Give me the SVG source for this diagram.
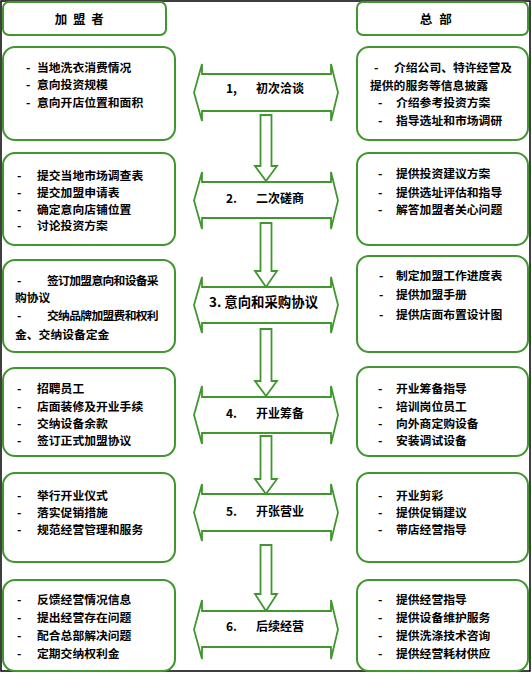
<svg xmlns="http://www.w3.org/2000/svg" width="532" height="674" viewBox="0 0 532 674">
<style>
  .frame { fill: none; stroke: #000; stroke-width: 1.5; }
  .box { fill: #fff; stroke: #41962f; stroke-width: 2; }
  .band { fill: #fff; stroke: #41962f; stroke-width: 1.8; stroke-linejoin: miter; }
  .down { fill: #fff; stroke: #41962f; stroke-width: 1.8; }
  text { font-family: "Noto Sans CJK SC", "Noto Sans", sans-serif; font-weight: 700; fill: #000; dominant-baseline: central; }
  .t { font-size: 11.8px; }
  .tn { font-size: 11.8px; letter-spacing: -0.7px; }
  .h { font-size: 12.5px; }
  .lbl { font-size: 12px; }
  .lbl3 { font-size: 13.4px; }
</style>
<rect class="frame" x="1" y="1" width="529" height="670"/>

<g id="connectors">
  <polygon class="down" points="260.5,115 271.5,115 271.5,166 277,166 266,181 255,166 260.5,166"/>
  <polygon class="down" points="260.5,223 271.5,223 271.5,271 277,271 266,287 255,271 260.5,271"/>
  <polygon class="down" points="260.5,329 271.5,329 271.5,381 277,381 266,396 255,381 260.5,381"/>
  <polygon class="down" points="260.5,436 271.5,436 271.5,479 277,479 266,494 255,479 260.5,479"/>
  <polygon class="down" points="260.5,545 271.5,545 271.5,594 277,594 266,611 255,594 260.5,594"/>
</g>

<g id="header-franchisee">
  <rect class="box" x="3" y="2" width="163" height="33" rx="6"/>
  <text class="h" x="80" y="18" text-anchor="middle" xml:space="preserve" letter-spacing="1.5">加 盟 者</text>
</g>
<g id="header-hq">
  <rect class="box" x="357" y="2" width="171" height="33" rx="6"/>
  <text class="h" x="436" y="18" text-anchor="middle" xml:space="preserve" letter-spacing="0.5">总  部</text>
</g>

<!-- Row 1 -->
<g id="left-1">
  <rect class="box" x="3" y="47" width="172" height="93" rx="12"/>
  <text class="t" x="26" y="66">-</text><text class="t" x="37" y="66">当地洗衣消费情况</text>
  <text class="t" x="26" y="83">-</text><text class="t" x="37" y="83">意向投资规模</text>
  <text class="t" x="26" y="101">-</text><text class="t" x="37" y="101">意向开店位置和面积</text>
</g>
<g id="step-1">
  <polygon class="band" points="194,92.5 202,64 202,74 331,74 331,64 338,92.5 331,121 331,111 202,111 202,121"/>
  <text class="lbl" x="226" y="87">1,</text>
  <text class="lbl" x="256" y="87">初次洽谈</text>
</g>
<g id="right-1">
  <rect class="box" x="357" y="47" width="171" height="93" rx="12"/>
  <text class="t" x="374" y="66">-</text><text class="t" x="394" y="66">介绍公司、特许经营及</text>
  <text class="t" x="370" y="84">提供的服务等信息披露</text>
  <text class="t" x="378" y="101.5">-</text><text class="t" x="396" y="101.5">介绍参考投资方案</text>
  <text class="t" x="378" y="119">-</text><text class="t" x="396" y="119">指导选址和市场调研</text>
</g>

<!-- Row 2 -->
<g id="left-2">
  <rect class="box" x="3" y="153" width="172" height="92" rx="12"/>
  <text class="t" x="17" y="174">-</text><text class="t" x="37" y="174">提交当地市场调查表</text>
  <text class="t" x="17" y="191">-</text><text class="t" x="37" y="191">提交加盟申请表</text>
  <text class="t" x="17" y="208">-</text><text class="t" x="37" y="208">确定意向店铺位置</text>
  <text class="t" x="17" y="224.5">-</text><text class="t" x="37" y="224.5">讨论投资方案</text>
</g>
<g id="step-2">
  <polygon class="band" points="194,200.5 202,172 202,182 331,182 331,172 338,200.5 331,229 331,218 202,218 202,229"/>
  <text class="lbl" x="226" y="197.5">2.</text>
  <text class="lbl" x="256" y="197.5">二次磋商</text>
</g>
<g id="right-2">
  <rect class="box" x="357" y="153" width="171" height="92" rx="12"/>
  <text class="t" x="378" y="172.5">-</text><text class="t" x="396" y="172.5">提供投资建议方案</text>
  <text class="t" x="378" y="191">-</text><text class="t" x="396" y="191">提供选址评估和指导</text>
  <text class="t" x="378" y="208">-</text><text class="t" x="396" y="208">解答加盟者关心问题</text>
</g>

<!-- Row 3 -->
<g id="left-3">
  <rect class="box" x="3" y="260" width="172" height="92" rx="12"/>
  <text class="t" x="17" y="279">-</text><text class="tn" x="47" y="279">签订加盟意向和设备采</text>
  <text class="t" x="15" y="296">购协议</text>
  <text class="t" x="17" y="314.5">-</text><text class="tn" x="47" y="314.5">交纳品牌加盟费和权利</text>
  <text class="t" x="15" y="333">金、交纳设备定金</text>
</g>
<g id="step-3">
  <polygon class="band" points="194,305 202,277 202,287 331,287 331,277 338,305 331,333 331,323 202,323 202,333"/>
  <text class="lbl3" x="209" y="301">3. 意向和采购协议</text>
</g>
<g id="right-3">
  <rect class="box" x="357" y="256" width="171" height="96" rx="12"/>
  <text class="t" x="379" y="274">-</text><text class="t" x="396" y="274">制定加盟工作进度表</text>
  <text class="t" x="379" y="293">-</text><text class="t" x="396" y="293">提供加盟手册</text>
  <text class="t" x="379" y="313">-</text><text class="t" x="396" y="313">提供店面布置设计图</text>
</g>

<!-- Row 4 -->
<g id="left-4">
  <rect class="box" x="3" y="368" width="172" height="88" rx="12"/>
  <text class="t" x="17" y="387">-</text><text class="t" x="37" y="387">招聘员工</text>
  <text class="t" x="17" y="405">-</text><text class="t" x="37" y="405">店面装修及开业手续</text>
  <text class="t" x="17" y="422">-</text><text class="t" x="37" y="422">交纳设备余款</text>
  <text class="t" x="17" y="439">-</text><text class="t" x="37" y="439">签订正式加盟协议</text>
</g>
<g id="step-4">
  <polygon class="band" points="194,415 202,386 202,397 331,397 331,386 338,415 331,444 331,433 202,433 202,444"/>
  <text class="lbl" x="226" y="412.5">4.</text>
  <text class="lbl" x="256" y="412.5">开业筹备</text>
</g>
<g id="right-4">
  <rect class="box" x="357" y="367" width="171" height="89" rx="12"/>
  <text class="t" x="378" y="387">-</text><text class="t" x="396" y="387">开业筹备指导</text>
  <text class="t" x="378" y="405">-</text><text class="t" x="396" y="405">培训岗位员工</text>
  <text class="t" x="378" y="422">-</text><text class="t" x="396" y="422">向外商定购设备</text>
  <text class="t" x="378" y="439">-</text><text class="t" x="396" y="439">安装调试设备</text>
</g>

<!-- Row 5 -->
<g id="left-5">
  <rect class="box" x="3" y="473" width="172" height="89" rx="12"/>
  <text class="t" x="17" y="494">-</text><text class="t" x="37" y="494">举行开业仪式</text>
  <text class="t" x="17" y="511">-</text><text class="t" x="37" y="511">落实促销措施</text>
  <text class="t" x="17" y="528">-</text><text class="t" x="37" y="528">规范经营管理和服务</text>
</g>
<g id="step-5">
  <polygon class="band" points="194,512.5 202,484 202,494 331,494 331,484 338,512.5 331,541 331,531 202,531 202,541"/>
  <text class="lbl" x="226" y="510.5">5.</text>
  <text class="lbl" x="256" y="510.5">开张营业</text>
</g>
<g id="right-5">
  <rect class="box" x="357" y="473" width="171" height="89" rx="12"/>
  <text class="t" x="378" y="494">-</text><text class="t" x="396" y="494">开业剪彩</text>
  <text class="t" x="378" y="511">-</text><text class="t" x="396" y="511">提供促销建议</text>
  <text class="t" x="378" y="528">-</text><text class="t" x="396" y="528">带店经营指导</text>
</g>

<!-- Row 6 -->
<g id="left-6">
  <rect class="box" x="3" y="580" width="172" height="91" rx="12"/>
  <text class="t" x="17" y="598">-</text><text class="t" x="37" y="598">反馈经营情况信息</text>
  <text class="t" x="17" y="616">-</text><text class="t" x="37" y="616">提出经营存在问题</text>
  <text class="t" x="17" y="634">-</text><text class="t" x="37" y="634">配合总部解决问题</text>
  <text class="t" x="17" y="652">-</text><text class="t" x="37" y="652">定期交纳权利金</text>
</g>
<g id="step-6">
  <polygon class="band" points="194,629.5 202,600 202,611 331,611 331,600 338,629.5 331,659 331,647 202,647 202,659"/>
  <text class="lbl" x="226" y="625.5">6.</text>
  <text class="lbl" x="256" y="625.5">后续经营</text>
</g>
<g id="right-6">
  <rect class="box" x="357" y="580" width="171" height="91" rx="12"/>
  <text class="t" x="378" y="598">-</text><text class="t" x="396" y="598">提供经营指导</text>
  <text class="t" x="378" y="616">-</text><text class="t" x="396" y="616">提供设备维护服务</text>
  <text class="t" x="378" y="634">-</text><text class="t" x="396" y="634">提供洗涤技术咨询</text>
  <text class="t" x="378" y="652">-</text><text class="t" x="396" y="652">提供经营耗材供应</text>
</g>
</svg>
